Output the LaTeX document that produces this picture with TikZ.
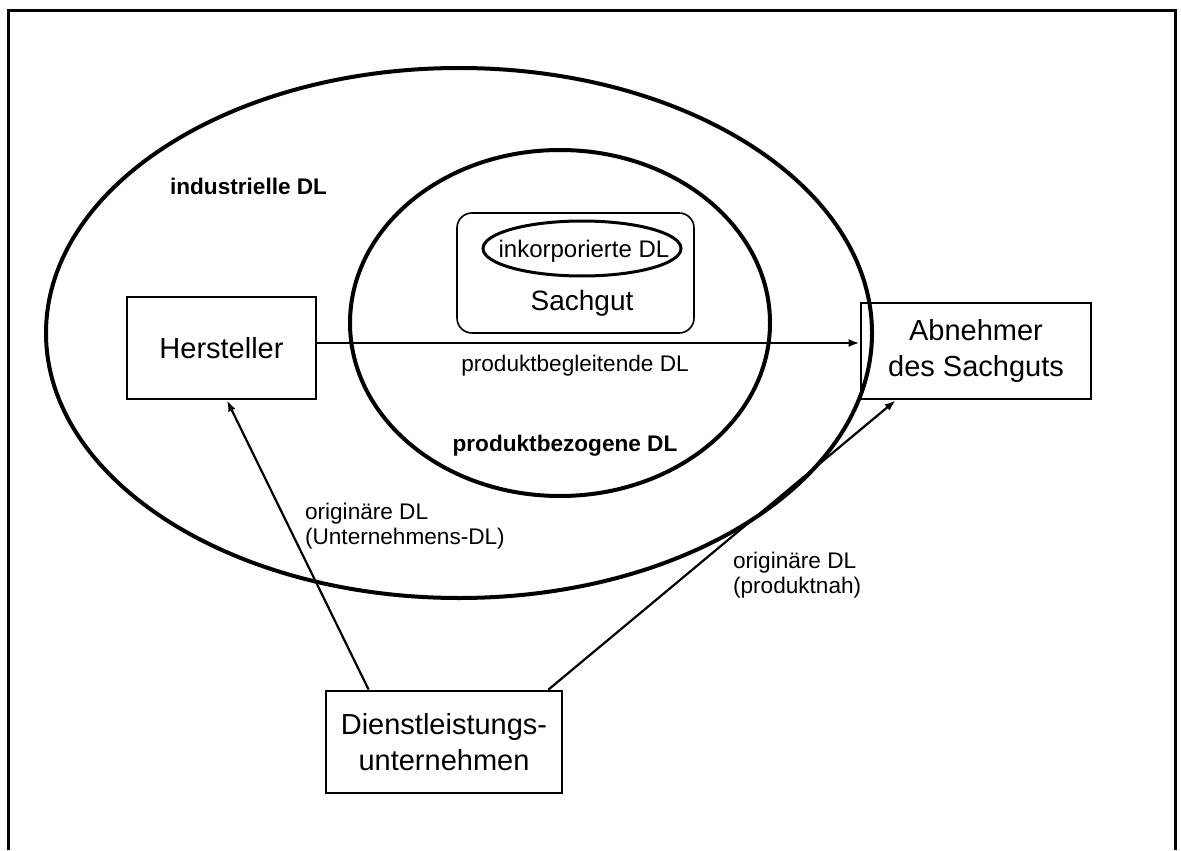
\documentclass[tikz,border=0pt]{standalone}
\usepackage{fontspec}
\setmainfont{Liberation Sans}
\usepackage{tikz}
\usetikzlibrary{shapes,arrows.meta,positioning}
\tikzset{>={Latex[length=5.5pt,width=4pt]}}

\begin{document}
\begin{tikzpicture}[x=0.5pt,y=-0.5pt,
                    frame/.style={line width=1.5pt, black},
                    ring/.style={line width=2pt, black},
                    box/.style={draw, line width=1.4pt, align=center, font=\fontsize{14.5}{18}\selectfont},
                    conn/.style={line width=1.1pt, black,->},
                    lbl/.style={font=\fontsize{11.3}{12.5}\selectfont, align=left},
                    bold/.style={font=\fontsize{11.3}{13}\selectfont\bfseries},
                   ]

\useasboundingbox (0,0) rectangle (1181,850);

% frame, open at the bottom
\draw[frame] (8,850) -- (8,11) -- (1175,11) -- (1175,850);

% circles
\draw[ring] (459,333) ellipse (413 and 265);
\draw[ring] (560,323) ellipse (210 and 173);

\node[draw, rounded corners=7.5pt, line width=0.8pt, minimum width=118.5pt, minimum height=60pt] (sachgut) at (575.5,273) {};
\node[font=\fontsize{14}{17}\selectfont] (sachguttext) at (582,303) {Sachgut};
\node[font=\fontsize{12}{14}\selectfont, inner sep=0pt] (inkorp) at (584,251) {inkorporierte DL};
\draw[line width=1.5pt] (582,248.5) ellipse (99 and 27.5);

\node[box, minimum width=94.5pt, minimum height=51pt] (hersteller) at (221.5,348) {Hersteller};
\node[box, minimum width=115pt, minimum height=48pt] (abnehmer) at (976,351) {Abnehmer\\des Sachguts};
\node[box, minimum width=118pt, minimum height=51pt] (dienst) at (444,742) {Dienstleistungs-\\unternehmen};

\draw[conn] ([yshift=2.5pt]hersteller.east) -- ([yshift=2.5pt]hersteller.east -| abnehmer.west);
\draw[conn] ([xshift=22pt]dienst.north west) -- ([xshift=2.75pt]hersteller.south);
\draw[conn] ([xshift=-7.5pt]dienst.north east) -- ([xshift=18pt]abnehmer.south west);

% labels
\node[bold, anchor=west] (indDL) at (163,186) {industrielle DL};
\node[lbl] (begleit) at (575,366) {produktbegleitende DL};
\node[bold] (bezogen) at (565,446) {produktbezogene DL};
\node[lbl, anchor=north west] (origU) at (298,496) {originäre DL\\(Unternehmens-DL)};
\node[lbl, anchor=north west] (origP) at (726,545) {originäre DL\\(produktnah)};

\end{tikzpicture}
\end{document}
